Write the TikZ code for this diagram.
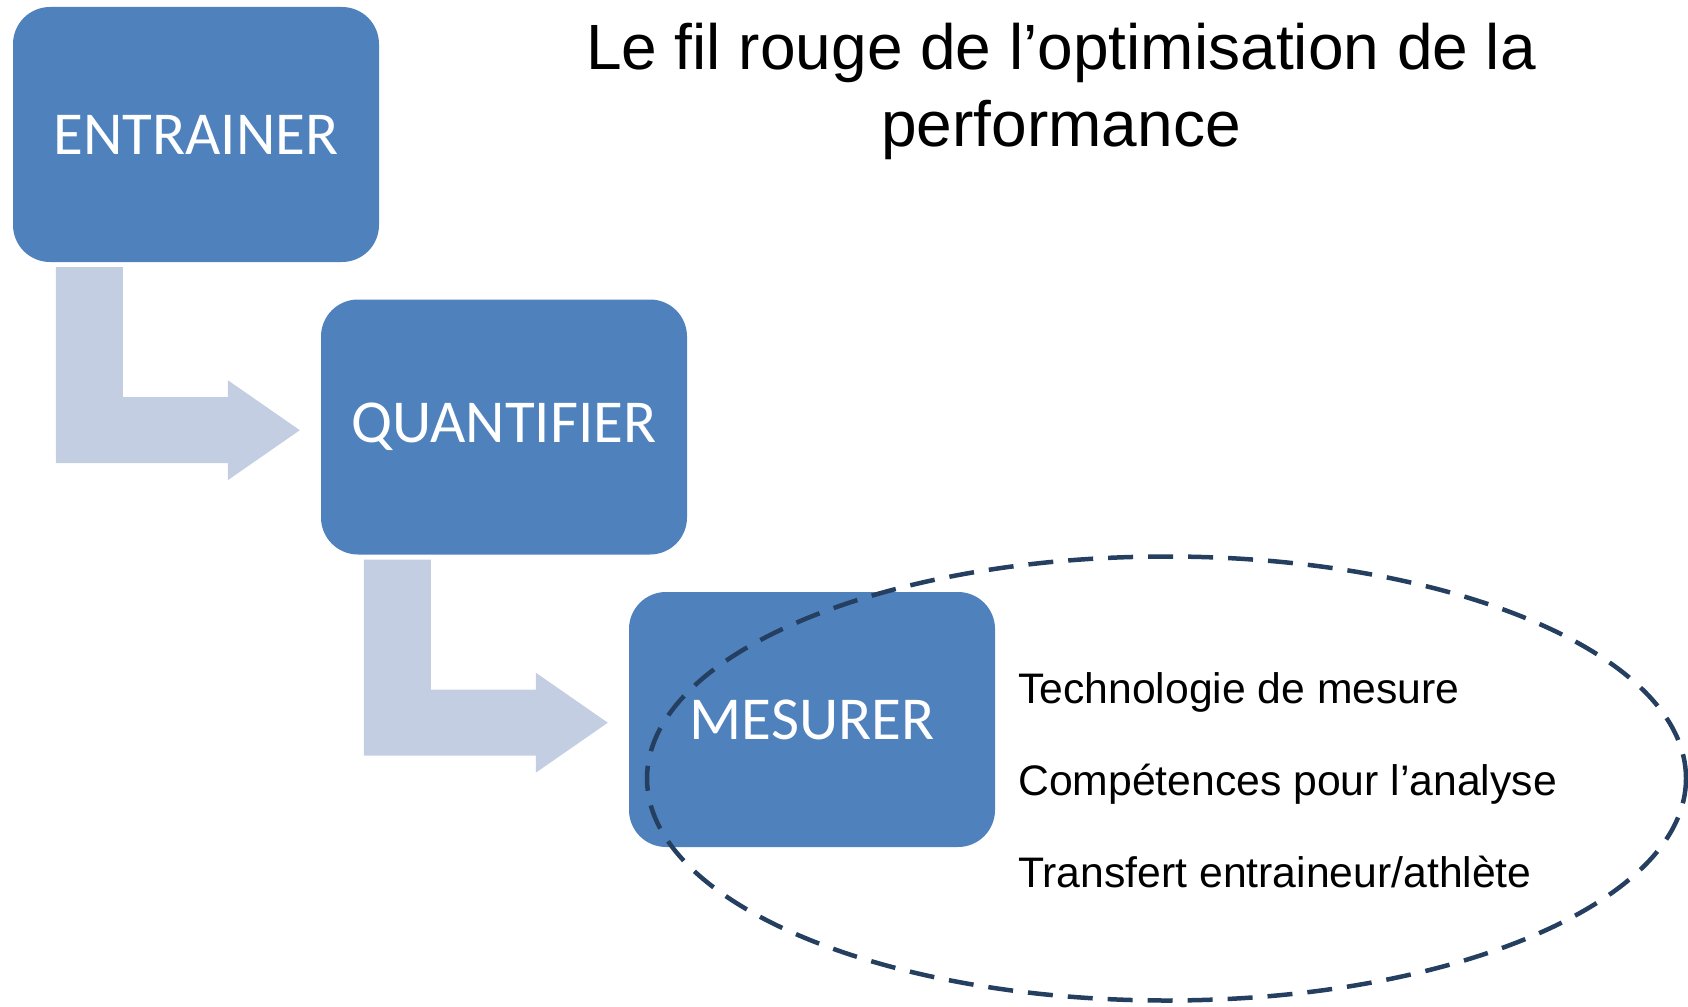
\documentclass[tikz,border=0pt]{standalone}
\usepackage{fontspec}
\setmainfont{Liberation Sans}
\newfontfamily\boxfont{Carlito}
\usetikzlibrary{calc}

\definecolor{stageblue}{HTML}{4F81BD}
\definecolor{arrowgrey}{HTML}{C3CEE3}
\definecolor{ringblue}{HTML}{243F60}

% bent block arrow hanging below a stage box
\newcommand{\stagearrow}[1]{%
  \fill[arrowgrey] ($(#1.south west)+(43,5)$) -- ++(67,0) -- ++(0,130)
    -- ++(105,0) -- ++(0,-17) -- ++(72,50) -- ++(-72,50) -- ++(0,-17)
    -- ++(-172,0) -- cycle;}

\begin{document}
\begin{tikzpicture}[x=1pt,y=-1pt,
                    stage/.style={rectangle,rounded corners=37pt,fill=stageblue,text=white,
                                  minimum width=366pt,minimum height=255pt,inner sep=0pt,
                                  font=\boxfont\fontsize{61}{73}\selectfont},
                    item/.style={anchor=base west,inner sep=0pt,font=\fontsize{42.7}{50}\selectfont},
                    ring/.style={draw=ringblue,line width=4.5pt,dash pattern=on 25pt off 15pt}]

  \useasboundingbox (0,0) rectangle (1688,1006);

  \node[stage] (entrainer) at (196,134.5) {ENTRAINER};
  \node[stage] (quantifier) at ($(entrainer)+(308,292.5)$) {QUANTIFIER};
  \node[stage] (mesurer) at ($(quantifier)+(308,292.5)$) {MESURER};

  \stagearrow{entrainer}
  \stagearrow{quantifier}

  \node[anchor=north,inner sep=0pt,align=center,font=\fontsize{64}{77}\selectfont] (title)
    at (1061,23) {Le fil rouge de l’optimisation de la\\performance};

  \node[item] (techno) at (1018,703) {Technologie de mesure};
  \node[item] (compet) at (1018,795) {Compétences pour l’analyse};
  \node[item] (transf) at (1018,887) {Transfert entraineur/athlète};

  \draw[ring] (1166.5,778.5) ellipse [x radius=519.5, y radius=222];

\end{tikzpicture}
\end{document}
